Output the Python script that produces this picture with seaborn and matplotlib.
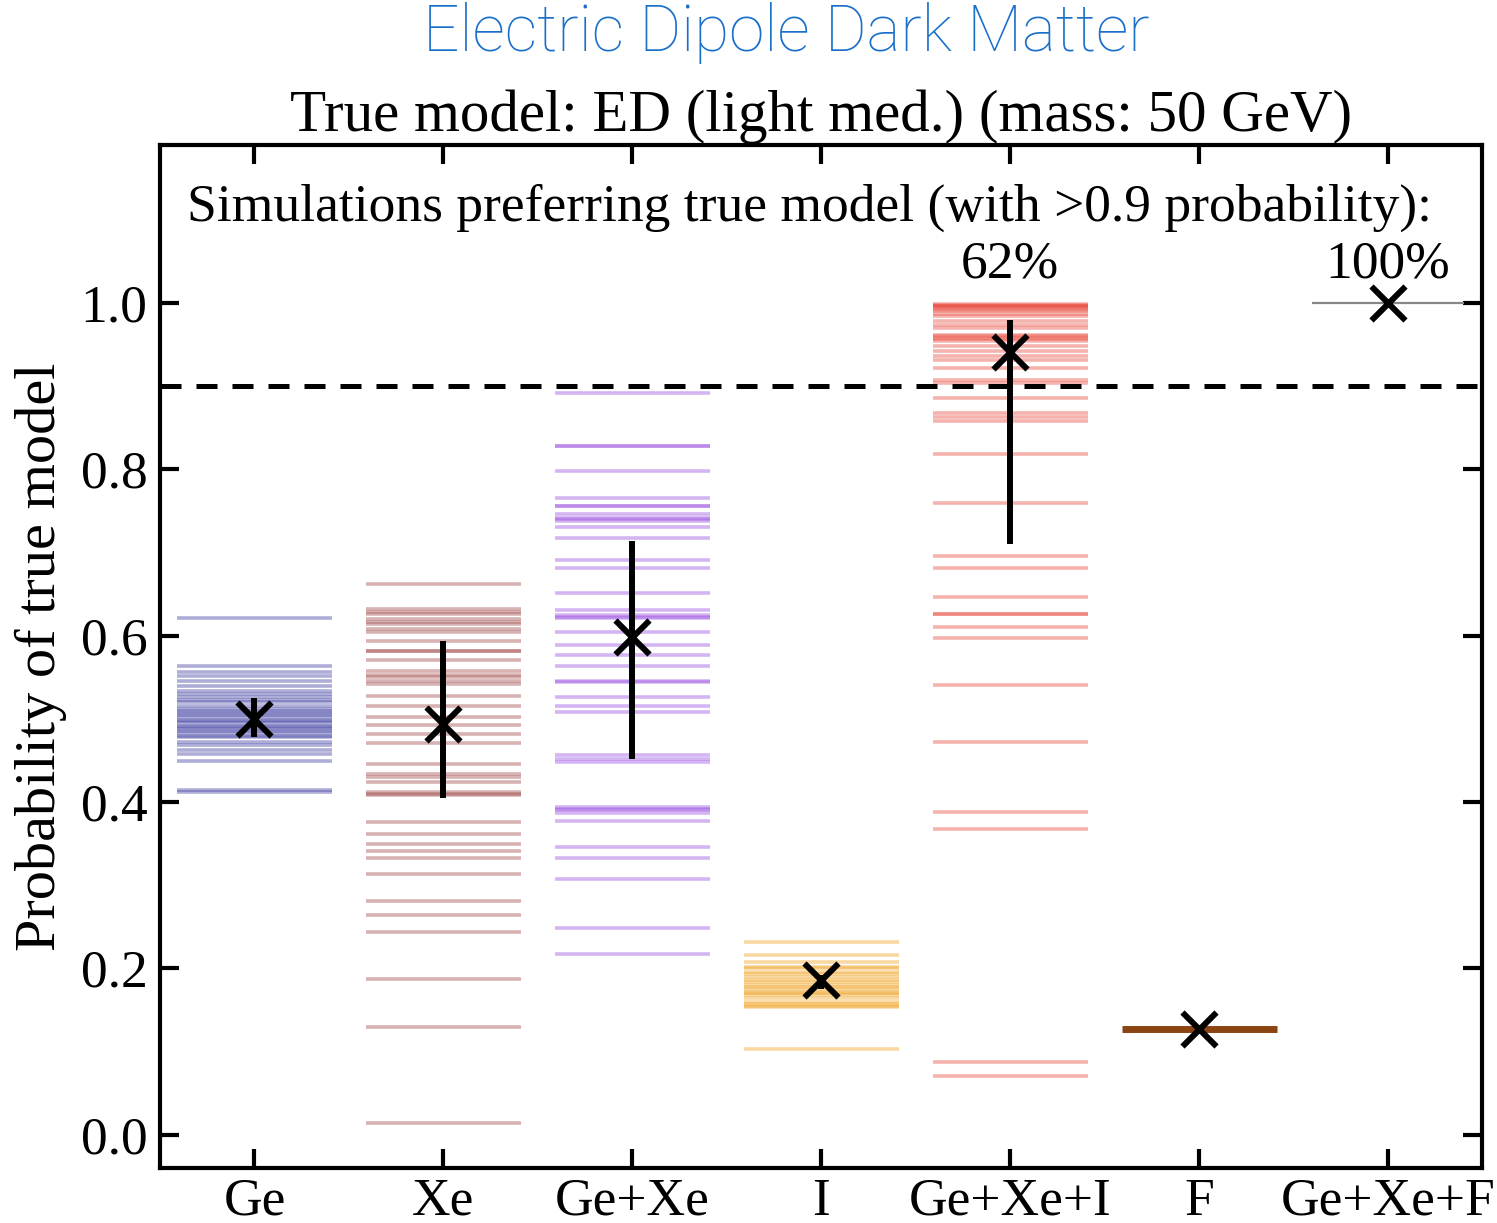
import numpy as np
import pandas as pd
import matplotlib
matplotlib.use("Agg")
import matplotlib.pyplot as plt
import seaborn as sns

# -----------------------------
# Data
# -----------------------------
categories = ["Ge", "Xe", "Ge+Xe", "I", "Ge+Xe+I", "F", "Ge+Xe+F"]
colors = ["#3c3ca2", "#a04848", "#9a4fe2", "#f0a020", "#ea4a40", "#8b4513", "#888888"]

sims_ge = [0.621, 0.563, 0.556, 0.546, 0.534, 0.523, 0.516, 0.509, 0.502, 0.492,
           0.488, 0.480, 0.472, 0.469, 0.463, 0.458, 0.449, 0.412, 0.499, 0.505,
           0.485, 0.530, 0.540, 0.495, 0.512, 0.520, 0.478, 0.497, 0.507, 0.490,
           0.415, 0.551, 0.526, 0.483]
sims_xe = [0.662, 0.632, 0.626, 0.620, 0.614, 0.608, 0.604, 0.594, 0.582, 0.571,
           0.558, 0.550, 0.542, 0.528, 0.515, 0.502, 0.493, 0.482, 0.471, 0.446,
           0.434, 0.430, 0.424, 0.412, 0.409, 0.376, 0.361, 0.349, 0.341, 0.333,
           0.313, 0.281, 0.264, 0.244, 0.187, 0.129, 0.014, 0.629, 0.617, 0.553,
           0.546, 0.410, 0.582]
sims_gexe = [0.892, 0.828, 0.798, 0.766, 0.756, 0.746, 0.742, 0.738, 0.731, 0.718,
             0.691, 0.682, 0.651, 0.631, 0.621, 0.604, 0.589, 0.577, 0.564, 0.544,
             0.526, 0.516, 0.508, 0.456, 0.452, 0.448, 0.394, 0.387, 0.377, 0.346,
             0.333, 0.308, 0.249, 0.217, 0.625, 0.545, 0.390, 0.828, 0.740, 0.622,
             0.392, 0.756]
sims_i = [0.232, 0.216, 0.208, 0.202, 0.196, 0.190, 0.184, 0.178, 0.170, 0.164,
          0.159, 0.153, 0.103, 0.186, 0.175, 0.155, 0.200, 0.180, 0.168, 0.157,
          0.193, 0.172]
sims_gexei = [0.998, 0.994, 0.990, 0.984, 0.978, 0.974, 0.970, 0.958, 0.954, 0.948,
              0.942, 0.936, 0.932, 0.922, 0.908, 0.904, 0.886, 0.868, 0.863, 0.858,
              0.819, 0.760, 0.696, 0.682, 0.646, 0.626, 0.611, 0.597, 0.541, 0.472,
              0.388, 0.367, 0.088, 0.071, 0.999, 0.996, 0.960, 0.626, 0.997, 0.995,
              0.992, 0.961, 0.957, 0.987]
sims_f = [0.127]
sims_gexef = [1.0]
sims = [sims_ge, sims_xe, sims_gexe, sims_i, sims_gexei, sims_f, sims_gexef]

medians = [0.500, 0.494, 0.598, 0.186, 0.941, 0.127, 1.000]
err_lo = [0.478, 0.405, 0.452, 0.175, 0.710, 0.127, 1.000]
err_hi = [0.525, 0.594, 0.714, 0.192, 0.980, 0.127, 1.000]

pct_labels = {4: "62%", 6: "100%"}

# -----------------------------
# Figure
# -----------------------------
sns.set_style("ticks")
plt.rcParams['font.family'] = ['Liberation Serif', 'DejaVu Serif']
plt.rcParams['text.color'] = 'black'
plt.rcParams['axes.labelcolor'] = 'black'
plt.rcParams['xtick.color'] = 'black'
plt.rcParams['ytick.color'] = 'black'

fig = plt.figure(figsize=(14.97, 12.23), dpi=100)
ax = fig.add_axes([0.1069, 0.045, 0.8834, 0.8364])

half = 0.41
for i, (vals, c) in enumerate(zip(sims, colors)):
    if categories[i] == "F":
        ax.hlines(vals, i - half, i + half, color=c, lw=5, alpha=1.0)
    elif categories[i] == "Ge+Xe+F":
        ax.hlines(vals, i - 0.4, i + 0.4, color=c, lw=1.6, alpha=1.0)
    else:
        ax.hlines(vals, i - half, i + half, color=c, lw=2.6, alpha=0.42)

# error bars + medians
for i in range(len(categories)):
    if err_hi[i] - err_lo[i] > 0:
        ax.vlines(i, err_lo[i], err_hi[i], color="black", lw=4.3, zorder=5)

df_med = pd.DataFrame({"x": np.arange(len(categories)), "y": medians})
sns.scatterplot(data=df_med, x="x", y="y", marker="x", s=600, color="black",
                linewidth=4.3, ax=ax, zorder=6)

ax.axhline(0.9, color="black", lw=3.6, ls=(0, (4.2, 3)), zorder=4)

ax.set_xlim(-0.5, 6.5)
ax.set_ylim(-0.04, 1.19)
ax.set_xticks(range(len(categories)))
ax.set_xticklabels(categories)
ax.set_yticks([0.0, 0.2, 0.4, 0.6, 0.8, 1.0])
ax.set_yticklabels(["0.0", "0.2", "0.4", "0.6", "0.8", "1.0"])
ax.tick_params(axis="both", direction="in", length=14, width=3, labelsize=38.5,
               top=True, right=True, color="black", labelcolor="black")
ax.tick_params(axis="x", pad=7)
ax.tick_params(axis="y", pad=9)
for s in ax.spines.values():
    s.set_linewidth(3)
    s.set_color("black")

ax.set_xlabel("")
ax.set_ylabel("Probability of true model", fontsize=42, labelpad=10)
ax.set_title("True model: ED (light med.) (mass: 50 GeV)", fontsize=42.5, pad=10)

ax.text(2.94, 1.115, "Simulations preferring true model (with >0.9 probability):",
        ha="center", va="center", fontsize=38.5)
for k, lab in pct_labels.items():
    ax.text(k, 1.046, lab, ha="center", va="center", fontsize=38.5)

fig.text(0.525, 0.973, "Electric Dipole Dark Matter", ha="center", va="center",
         fontsize=46, color="#1a6fc9", family=["Roboto", "DejaVu Sans"], fontweight="light")

fig.savefig("out.png", dpi=100)
